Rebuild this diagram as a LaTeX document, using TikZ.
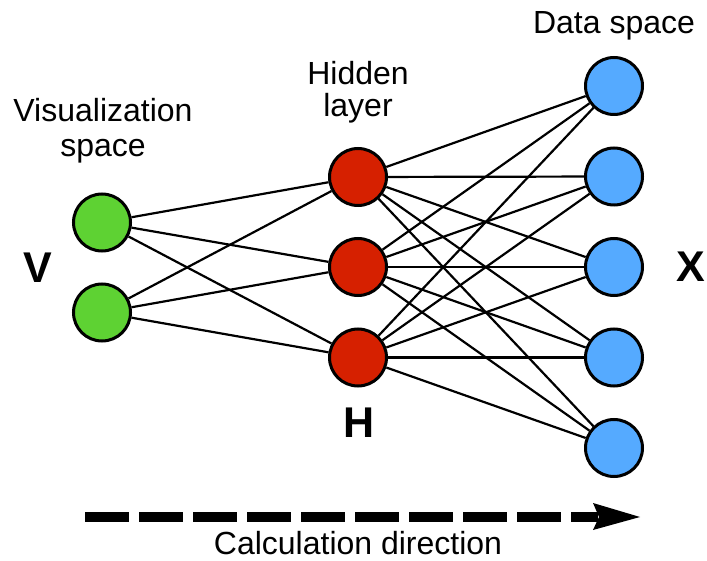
\documentclass[tikz,border=0pt]{standalone}
\usepackage{fontspec}
\setmainfont{Liberation Sans}
\definecolor{vgreen}{RGB}{94,210,51}
\definecolor{hred}{RGB}{214,32,0}
\definecolor{xblue}{RGB}{85,170,255}
\tikzset{
  neuron/.style={circle, draw=black, line width=3pt, minimum size=57pt, inner sep=0pt},
  edgeline/.style={line width=2.2pt, draw=black},
  lbl/.style={font=\fontsize{32}{36}\selectfont, anchor=base, inner sep=0pt},
  biglbl/.style={font=\fontsize{43}{43}\selectfont\bfseries, anchor=base, inner sep=0pt},
  dirline/.style={line width=10pt, dash pattern=on 44pt off 10pt, line cap=butt}
}
\begin{document}
\begin{tikzpicture}[x=1pt, y=-1pt]
\useasboundingbox (0,0) rectangle (707,561);
% nodes
\node[neuron, fill=vgreen] (v1) at (102,222.5) {};
\node[neuron, fill=vgreen] (v2) at (102,312.5) {};
\node[neuron, fill=hred] (h1) at (358,177) {};
\node[neuron, fill=hred] (h2) at (358,267) {};
\node[neuron, fill=hred] (h3) at (358,357.5) {};
\node[neuron, fill=xblue] (x1) at (614,86) {};
\node[neuron, fill=xblue] (x2) at (614,176.5) {};
\node[neuron, fill=xblue] (x3) at (614,267) {};
\node[neuron, fill=xblue] (x4) at (614,357.5) {};
\node[neuron, fill=xblue] (x5) at (614,448) {};
% connections
\foreach \a in {v1,v2}{\foreach \b in {h1,h2,h3}{\draw[edgeline] (\a) -- (\b);}}
\foreach \a in {h1,h2,h3}{\foreach \b in {x1,x2,x3,x4,x5}{\draw[edgeline] (\a) -- (\b);}}
% labels
\node[lbl] (lvis) at (103,121.5) {Visualization};
\node[lbl] (lvis2) at (103,157) {space};
\node[lbl] (lhid) at (358,85) {Hidden};
\node[lbl] (lhid2) at (358,117) {layer};
\node[lbl] (ldata) at (614,33.5) {Data space};
\node[lbl] (lcalc) at (358,554) {Calculation direction};
\node[biglbl] (lv) at (38,282.3) {V};
\node[biglbl] (lx) at (690.7,282) {X};
\node[biglbl] (lh) at (359,437.3) {H};
% calculation direction arrow
\coordinate (arrS) at (85,517);
\coordinate (arrE) at (598,517);
\coordinate (arrT) at (640,517);
\draw[dirline] (arrS) -- (arrE);
\fill (arrT) -- ([shift={(-47,-14)}]arrT) -- ([shift={(-41,0)}]arrT) -- ([shift={(-47,13)}]arrT) -- cycle;
\end{tikzpicture}
\end{document}
